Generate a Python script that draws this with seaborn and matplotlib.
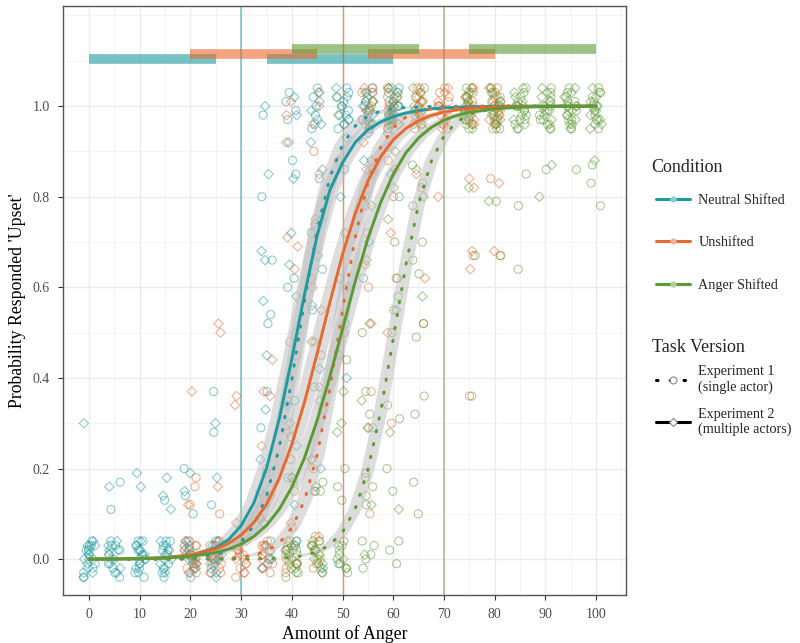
import numpy as np
import pandas as pd
import seaborn as sns
import matplotlib.pyplot as plt
from matplotlib.lines import Line2D

conditions = ["Neutral Shifted", "Unshifted", "Anger Shifted"]
versions = ["Experiment 1", "Experiment 2"]
version_labels = ["Experiment 1\n(single actor)", "Experiment 2\n(multiple actors)"]

# anger levels shown in each condition
levels_neutral = [0, 5, 10, 15, 20, 25, 35, 40, 45, 50, 55, 60]
levels_unshifted = [20, 25, 30, 35, 40, 45, 55, 60, 65, 70, 75, 80]
levels_anger = [40, 45, 50, 55, 60, 65, 75, 80, 85, 90, 95, 100]

# per participant proportion 'upset' (percent), one list per level
neutral_exp1 = [
    [-3, 0, 2, 4, -1, 3, 1, -4, 2, 0, 3, -2],
    [-2, 1, 3, -4, 4, 0, 2, -1, 3, 17, 11, -3],
    [0, -3, 2, 4, 1, -2, 3, -1, 4, 0, 2, -4],
    [-1, 2, 4, -3, 0, 3, 1, -2, 13, 2, -4, 4],
    [1, -2, 3, 4, 0, -4, 2, 20, 14, 10, 1, -1],
    [-2, 0, 3, 1, 4, -3, 28, 37, 2, 12, 0, -1],
    [-1, 2, 4, 0, 9, 12, 19, 29, 37, 52, 54, 66, 80, 98],
    [2, -1, 4, 18, 27, 35, 45, 60, 62, 85, 88, 97, 101, 103, 99],
    [15, 38, 55, 64, 72, 84, 95, 98, 100, 102, 104, 97, 96],
    [52, 86, 95, 97, 99, 100, 101, 102, 103, 104, 96, 98, -1],
    [62, 85, 95, 96, 98, 99, 100, 101, 102, 103, 104, 97],
    [80, 96, 97, 99, 100, 101, 102, 103, 104, 98, 95, 100],
]
neutral_exp2 = [
    [-2, 1, 3, -3, 4, 0, 2, -1, 30, 3, -4],
    [0, 2, -3, 4, 1, -1, 3, 16, 2, -2],
    [1, -2, 3, 0, 4, -3, 2, 19, 16, 1, -1],
    [2, -1, 3, 0, 4, -3, 18, 14, 11, 1, -2],
    [0, 3, -2, 4, 1, -3, 19, 15, 2, 0, -1],
    [1, -3, 4, 0, 2, 30, 18, 3, -1, -4],
    [0, 3, -2, 8, 15, 22, 33, 45, 57, 66, 68, 85, 100],
    [3, 12, 25, 34, 50, 58, 65, 72, 84, 92, 98, 102],
    [20, 42, 56, 67, 75, 86, 92, 96, 99, 101, 103, -2],
    [40, 62, 80, 93, 96, 98, 100, 102, 104, 97],
    [70, 88, 94, 96, 98, 100, 101, 103, 99, 97],
    [85, 94, 96, 98, 100, 101, 103, 104, 97, 99],
]
unshifted_exp1 = [
    [-3, 0, 2, 4, 1, -2, 3, 18, 16, 12, -1],
    [0, -2, 3, 1, 4, -3, 2, 10, -1, 3],
    [-1, 2, 4, 0, -3, 3, 1, -4, 2, 5, -2],
    [0, 3, -2, 4, 1, -3, 2, 9, 20, 14, -1, 3],
    [-2, 1, 4, 0, 3, -3, 7, 15, 22, 35, 48, 2, -1],
    [0, 3, -2, 5, 15, 20, 33, 45, 60, 75, 90, -1, 2],
    [10, 18, 37, 60, 72, 86, 97, 99, 101, 103, 100, 96, 104, 95],
    [30, 62, 80, 88, 96, 98, 100, 102, 104, 97, 99, 101, 95],
    [52, 82, 96, 97, 99, 100, 101, 102, 103, 104, 98, 95],
    [96, 97, 99, 100, 101, 102, 103, 104, 98, 95, 100],
    [36, 67, 96, 98, 100, 102, 104, 97, 99, 101, 103],
    [67, 84, 96, 97, 99, 100, 101, 103, 104, 98, 95],
]
unshifted_exp2 = [
    [-2, 1, 3, 0, -3, 4, 37, 12, 2, -1],
    [1, -3, 2, 4, 0, 50, 52, 16, 3, -1],
    [2, -1, 4, 0, -3, 34, 36, 8, 3, 1],
    [0, 3, -2, 14, 25, 36, 37, 44, 3, 1],
    [-1, 8, 18, 28, 40, 64, 69, 71, 92, 98, 101],
    [5, 22, 38, 48, 55, 62, 74, 85, 96, 100, 103],
    [29, 52, 65, 78, 86, 92, 96, 99, 101, 103, 104],
    [50, 72, 86, 91, 96, 98, 100, 102, 104, 97],
    [62, 85, 96, 98, 100, 102, 104, 97, 99, 101],
    [80, 96, 97, 99, 100, 101, 103, 104, 98, 95],
    [64, 68, 82, 84, 96, 98, 100, 102, 104, 97],
    [68, 83, 96, 98, 100, 102, 104, 97, 99, 101],
]
anger_exp1 = [
    [-3, 0, 2, 4, 1, -2, 3, -1, 17, 2, -4],
    [0, -3, 2, 4, 1, -2, 3, 15, 17, -1, 2, 4],
    [-1, 2, 4, 0, -3, 3, 13, 16, 20, 44, 50, 1, -2],
    [0, 3, -2, 4, 1, 12, 14, 16, 19, 29, 32, 37, 50, 80],
    [2, -1, 4, 15, 20, 31, 34, 50, 55, 58, 62, 70, 97, 100, 103],
    [10, 17, 32, 36, 49, 52, 63, 66, 70, 78, 83, 87, 96, 99, 102, 104],
    [36, 67, 96, 97, 99, 100, 101, 102, 103, 104, 98, 95, 100, 97],
    [67, 79, 96, 97, 99, 100, 101, 102, 103, 104, 98, 95, 100, 97],
    [64, 78, 85, 96, 97, 99, 100, 101, 102, 103, 104, 98, 95, 100, 97],
    [86, 96, 97, 99, 100, 101, 102, 103, 104, 98, 95, 100, 97, 99],
    [86, 96, 97, 99, 100, 101, 102, 103, 104, 98, 95, 100, 97, 99],
    [78, 83, 87, 96, 97, 99, 100, 101, 102, 103, 104, 98, 95, 100, 97],
]
anger_exp2 = [
    [-2, 1, 3, 0, -3, 4, 2, 18, 30, -1],
    [1, -3, 2, 4, 0, 16, 22, 35, 48, 3, -1],
    [0, 3, -2, 28, 30, 37, 45, 60, 72, 88, 98, 102],
    [1, 12, 29, 35, 52, 66, 78, 88, 96, 99, 101, 103],
    [11, 28, 55, 75, 82, 90, 96, 98, 100, 102, 104, 97],
    [58, 80, 86, 95, 97, 99, 100, 101, 103, 104, 98],
    [82, 96, 97, 99, 100, 101, 102, 103, 104, 98, 95],
    [79, 96, 97, 99, 100, 101, 102, 103, 104, 98, 95],
    [96, 97, 99, 100, 101, 102, 103, 104, 98, 95, 100],
    [80, 87, 96, 97, 99, 100, 101, 102, 103, 104, 98, 95],
    [96, 97, 99, 100, 101, 102, 103, 104, 98, 95, 100],
    [88, 96, 97, 99, 100, 101, 102, 103, 104, 98, 95],
]

# fitted curves
fit_x = [0, 5, 10, 15, 20, 25, 27.5, 30, 32.5, 35, 37.5, 40, 42.5, 45, 47.5, 50,
         52.5, 55, 57.5, 60, 62.5, 65, 67.5, 70, 72.5, 75, 80, 85, 90, 95, 100]
fit_neutral_exp1 = [0, 0, 0.0002, 0.0006, 0.0024, 0.0098, 0.0195, 0.0385, 0.0745, 0.139, 0.246,
                    0.397, 0.57, 0.727, 0.843, 0.915, 0.956, 0.978, 0.989, 0.9944, 0.997, 0.9986,
                    0.9993, 0.9997, 0.9998, 0.9999, 1, 1, 1, 1, 1]
fit_neutral_exp2 = [0.0001, 0.0003, 0.0008, 0.0025, 0.008, 0.025, 0.043, 0.074, 0.124, 0.201,
                    0.309, 0.443, 0.585, 0.715, 0.815, 0.875, 0.92, 0.948, 0.965, 0.977, 0.985,
                    0.99, 0.994, 0.996, 0.9975, 0.9985, 0.9995, 1, 1, 1, 1]
fit_unshifted_exp1 = [0, 0, 0, 0.0001, 0.0003, 0.0011, 0.0022, 0.0045, 0.009, 0.018, 0.0356,
                      0.069, 0.13, 0.231, 0.377, 0.55, 0.711, 0.832, 0.909, 0.9526, 0.976, 0.988,
                      0.994, 0.997, 0.9985, 0.9993, 0.9998, 1, 1, 1, 1]
fit_unshifted_exp2 = [0.0003, 0.0006, 0.0015, 0.0038, 0.0092, 0.0223, 0.0346, 0.0532, 0.081,
                      0.121, 0.178, 0.254, 0.347, 0.455, 0.567, 0.673, 0.763, 0.835, 0.888,
                      0.9255, 0.951, 0.968, 0.9795, 0.9869, 0.9916, 0.9946, 0.9978, 0.9991,
                      0.9996, 0.9999, 1]
fit_anger_exp1 = [0, 0, 0, 0, 0, 0, 0.0001, 0.0003, 0.0006, 0.0011, 0.0022, 0.0043, 0.0083,
                  0.0163, 0.0314, 0.06, 0.111, 0.197, 0.325, 0.487, 0.65, 0.785, 0.878, 0.934,
                  0.965, 0.982, 0.9953, 0.9988, 0.9997, 1, 1]
fit_anger_exp2 = [0.0002, 0.0005, 0.0011, 0.0027, 0.0063, 0.0145, 0.0221, 0.0333, 0.0502,
                  0.0746, 0.11, 0.159, 0.224, 0.307, 0.403, 0.508, 0.613, 0.708, 0.787, 0.85,
                  0.897, 0.93, 0.953, 0.969, 0.9794, 0.9864, 0.9941, 0.9975, 0.9989, 0.9995,
                  0.9998]
# half width of the grey confidence bands (anger units), exp1 / exp2
band_neutral = [1.6, 1.8]
band_unshifted = [1.5, 1.8]
band_anger = [1.3, 1.6]

# midpoint of each condition's range
midpoints = [30, 50, 70]
# tested ranges (bars on top)
range_neutral = [(0, 25), (35, 60)]
range_unshifted = [(20, 45), (55, 80)]
range_anger = [(40, 65), (75, 100)]

colors = ["#1E9AA0", "#E8692D", "#5B9A35"]
pal = dict(zip(conditions, colors))

levels_all = [levels_neutral, levels_unshifted, levels_anger]
resp_all = [[neutral_exp1, neutral_exp2], [unshifted_exp1, unshifted_exp2],
            [anger_exp1, anger_exp2]]
fits_all = [[fit_neutral_exp1, fit_neutral_exp2], [fit_unshifted_exp1, fit_unshifted_exp2],
            [fit_anger_exp1, fit_anger_exp2]]
bands_all = [band_neutral, band_unshifted, band_anger]
ranges_all = [range_neutral, range_unshifted, range_anger]

rows = []
for cond, levels, per_ver in zip(conditions, levels_all, resp_all):
    for ver, lists in zip(versions, per_ver):
        for lev, vals in zip(levels, lists):
            for v in vals:
                rows.append((cond, ver, lev, v / 100))
pts = pd.DataFrame(rows, columns=["cond", "version", "anger", "resp"])

frows = []
for cond, per_ver in zip(conditions, fits_all):
    for ver, ys in zip(versions, per_ver):
        for x, y in zip(fit_x, ys):
            frows.append((cond, ver, x, y))
fits = pd.DataFrame(frows, columns=["cond", "version", "x", "y"])

sns.set_style("white")
plt.rcParams['font.family'] = ['Liberation Serif', 'DejaVu Serif']

fig = plt.figure(figsize=(8, 6.43), dpi=100)
ax = fig.add_axes([0.079, 0.0747, 0.7035, 0.916])

# vertical midpoint lines
for m, c, lw, al in zip(midpoints, ["#1E9AA0", "#E8692D", "#8E9A6A"], [1.2, 1.0, 1.3],
                        [0.55, 0.7, 0.6]):
    ax.axvline(m, color=c, alpha=al, lw=lw, zorder=1.5)

# jittered points, open markers
np.random.seed(7)
for ver, mk, sz in [("Experiment 1", "o", 5.8), ("Experiment 2", "D", 4.8)]:
    n0 = len(ax.collections)
    sns.stripplot(data=pts[pts.version == ver], x="anger", y="resp", hue="cond",
                  hue_order=conditions, palette=pal, native_scale=True, orient="x",
                  jitter=0.25, marker=mk, size=sz, linewidth=0.8, legend=False,
                  ax=ax, zorder=2)
    for coll in ax.collections[n0:]:
        fc = np.array(coll.get_facecolors())
        fc[:, 3] = 0.5
        coll.set_edgecolors(fc)
        coll.set_facecolors("none")
        coll.set_linewidths(0.8)

# grey confidence ribbons
fx = np.array(fit_x)
for per_ver, band in zip(fits_all, bands_all):
    for ys, d in zip(per_ver, band):
        ys = np.array(ys)
        ax.fill(np.r_[fx - d, (fx + d)[::-1]], np.r_[ys, ys[::-1]],
                color="#BDBDBD", alpha=0.5, lw=0, zorder=3)

sns.lineplot(data=fits, x="x", y="y", hue="cond", style="version", hue_order=conditions,
             style_order=versions, palette=pal,
             dashes={"Experiment 1": (0.5, 4.0), "Experiment 2": ""},
             linewidth=2.1, estimator=None, sort=False, legend=False, ax=ax,
             zorder=4, dash_capstyle="round")

# tested ranges on top
for rngs, c, yb in zip(ranges_all, colors, [1.103, 1.114, 1.125]):
    for a, b in rngs:
        ax.hlines(yb, a, b, colors=c, lw=7, alpha=0.6, capstyle="butt", zorder=5)

ax.set_xlim(-5.1, 105.9)
ax.set_ylim(-0.079, 1.221)
ax.set_xticks(range(0, 101, 10))
ax.set_xticks(np.arange(5, 106, 10), minor=True)
ax.set_yticks([0, 0.2, 0.4, 0.6, 0.8, 1.0])
ax.set_yticklabels(["0.0", "0.2", "0.4", "0.6", "0.8", "1.0"])
ax.set_yticks([0.1, 0.3, 0.5, 0.7, 0.9, 1.1, 1.2], minor=True)
ax.tick_params(which="major", length=3.5, width=0.8, color="#333333", labelcolor="#4D4D4D",
               labelsize=10, pad=6, bottom=True, left=True)
ax.tick_params(which="minor", length=0)
ax.grid(which="major", color="#EBEBEB", lw=1.0)
ax.grid(which="minor", color="#F2F2F2", lw=0.6)
ax.set_axisbelow(True)
for s in ax.spines.values():
    s.set_color("#555555")
    s.set_linewidth(1.0)

ax.set_xlabel("Amount of Anger", fontsize=12.8, color="black")
ax.set_ylabel("Probability Responded 'Upset'", fontsize=12.8, color="black")
ax.xaxis.set_label_coords(0.5, -0.052)
ax.yaxis.set_label_coords(-0.066, 0.5)


def light(c):
    r = np.array(plt.matplotlib.colors.to_rgb(c))
    return tuple(r + (1 - r) * 0.5)


cond_handles = [Line2D([0], [0], color=c, lw=2.2, marker="o", ms=4.5, mfc=light(c), mec="none")
                for c in colors]
ver_handles = [
    Line2D([0], [0], color="black", lw=2.2, linestyle=(0, (0.5, 4.0)), dash_capstyle="round",
           marker="o", ms=5, mfc="white", mec="#888888", mew=0.8),
    Line2D([0], [0], color="black", lw=2.2, marker="D", ms=4, mfc="white", mec="#888888", mew=0.8),
]

fig.text(0.8146, 0.7325, "Condition", fontsize=13)
fig.text(0.8146, 0.4526, "Task Version", fontsize=13)
fig.legend(cond_handles, conditions, loc="upper left", bbox_to_anchor=(0.82, 0.6986),
           frameon=False, fontsize=10.2, borderpad=0, borderaxespad=0, handlelength=2.4,
           handletextpad=0.58, labelspacing=2.07)
fig.legend(ver_handles, version_labels, loc="upper left", bbox_to_anchor=(0.82, 0.4316),
           frameon=False, fontsize=10.2, borderpad=0, borderaxespad=0, handlelength=2.4,
           handletextpad=0.58, labelspacing=0.98)

fig.savefig("out.png", dpi=100)
